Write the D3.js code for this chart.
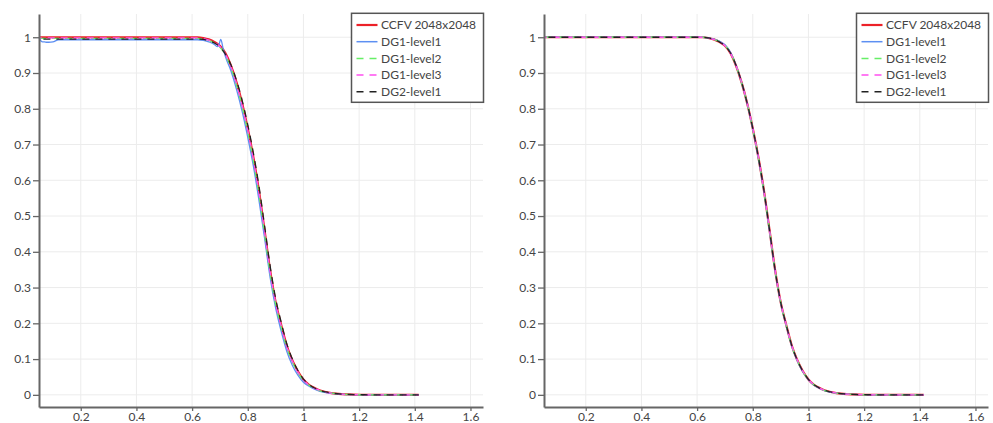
<!DOCTYPE html>
<html>
<head>
<meta charset="utf-8">
<script src="https://cdn.jsdelivr.net/npm/d3@7/dist/d3.min.js"></script>
<style>
  html, body { margin: 0; padding: 0; background: #fff; }
  svg { display: block; }
  text { font-family: Lato, "Open Sans", sans-serif; }
</style>
</head>
<body>
<svg id="chart" width="993" height="423"></svg>
<script>
// Shared radial sample positions
const xs = [0.05, 0.06, 0.08, 0.1, 0.12, 0.2, 0.3, 0.4, 0.5, 0.6,
  0.62, 0.64, 0.66, 0.68, 0.70, 0.72, 0.74, 0.76, 0.78, 0.80, 0.82, 0.84, 0.86, 0.88, 0.90,
  0.92, 0.94, 0.96, 0.98, 1.00, 1.02, 1.04, 1.06, 1.08, 1.10,
  1.14, 1.18, 1.22, 1.30, 1.414];

// Reference solution (same in both panels)
const ccfv = [1, 1, 1, 1, 1, 1, 1, 1, 1, 1,
  1, 0.998, 0.994, 0.987, 0.976, 0.955, 0.92, 0.873, 0.815, 0.745, 0.665, 0.572, 0.462, 0.35, 0.26,
  0.196, 0.138, 0.097, 0.066, 0.043, 0.028, 0.019, 0.012, 0.008, 0.005,
  0.002, 0.0008, 0.0002, 0, 0];

// Left panel
const dg1L1LeftX = [0.05, 0.055, 0.06, 0.07, 0.08, 0.085, 0.1, 0.12, 0.2, 0.3, 0.4, 0.5, 0.6,
  0.62, 0.64, 0.66, 0.68, 0.69, 0.695, 0.703, 0.712,
  0.72, 0.74, 0.76, 0.78, 0.80, 0.82, 0.84, 0.86, 0.88, 0.90, 0.92, 0.94, 0.96, 0.98, 1.00,
  1.02, 1.04, 1.06, 1.08, 1.10, 1.14, 1.18, 1.22, 1.30, 1.414];
const dg1L1Left = [1.0, 0.992, 0.988, 0.987, 0.986, 0.986, 0.987, 0.993, 0.993, 0.993, 0.993, 0.993, 0.993,
  0.993, 0.991, 0.987, 0.98, 0.974, 0.976, 0.994, 0.966,
  0.945, 0.905, 0.853, 0.792, 0.72, 0.64, 0.545, 0.44, 0.33, 0.243, 0.178, 0.122, 0.083, 0.055, 0.035,
  0.024, 0.016, 0.01, 0.006, 0.004, 0.0015, 0.0005, 0, 0, 0];
const dg1L2Left = [0.997, 0.997, 0.997, 0.997, 0.997, 0.997, 0.997, 0.997, 0.997, 0.997,
  0.997, 0.995, 0.991, 0.984, 0.972, 0.95, 0.914, 0.866, 0.806, 0.736, 0.655, 0.562, 0.452, 0.342, 0.254,
  0.19, 0.133, 0.093, 0.063, 0.041, 0.027, 0.018, 0.011, 0.007, 0.005,
  0.002, 0.0007, 0.0002, 0, 0];
const dg1L3Left = [0.998, 0.998, 0.998, 0.998, 0.998, 0.998, 0.998, 0.998, 0.998, 0.998,
  0.998, 0.996, 0.992, 0.985, 0.974, 0.952, 0.917, 0.869, 0.81, 0.74, 0.66, 0.567, 0.457, 0.346, 0.257,
  0.193, 0.135, 0.095, 0.064, 0.042, 0.027, 0.018, 0.012, 0.007, 0.005,
  0.002, 0.0008, 0.0002, 0, 0];
const dg2L1Left = [0.995, 0.995, 0.995, 0.995, 0.995, 0.995, 0.995, 0.995, 0.995, 0.995,
  0.995, 0.994, 0.99, 0.984, 0.973, 0.952, 0.922, 0.878, 0.823, 0.755, 0.677, 0.585, 0.475, 0.362, 0.27,
  0.203, 0.143, 0.1, 0.068, 0.044, 0.029, 0.019, 0.012, 0.008, 0.005,
  0.002, 0.0008, 0.0002, 0, 0];

// Right panel
const dg1L1Right = [1, 1, 1, 1, 1, 1, 1, 1, 1, 1,
  1, 0.998, 0.995, 0.989, 0.979, 0.958, 0.921, 0.873, 0.814, 0.743, 0.662, 0.568, 0.458, 0.347, 0.258,
  0.194, 0.136, 0.095, 0.064, 0.042, 0.027, 0.018, 0.011, 0.007, 0.005,
  0.002, 0.0007, 0.0002, 0, 0];
const dg1L2Right = [1, 1, 1, 1, 1, 1, 1, 1, 1, 1,
  1, 0.998, 0.994, 0.988, 0.977, 0.956, 0.92, 0.872, 0.814, 0.744, 0.664, 0.57, 0.46, 0.349, 0.259,
  0.195, 0.137, 0.096, 0.065, 0.043, 0.028, 0.018, 0.012, 0.008, 0.005,
  0.002, 0.0008, 0.0002, 0, 0];
const dg1L3Right = [1, 1, 1, 1, 1, 1, 1, 1, 1, 1,
  1, 0.998, 0.994, 0.987, 0.976, 0.955, 0.92, 0.873, 0.815, 0.745, 0.665, 0.571, 0.461, 0.35, 0.26,
  0.196, 0.138, 0.097, 0.066, 0.043, 0.028, 0.019, 0.012, 0.008, 0.005,
  0.002, 0.0008, 0.0002, 0, 0];
const dg2L1Right = [1, 1, 1, 1, 1, 1, 1, 1, 1, 1,
  1, 0.998, 0.994, 0.987, 0.976, 0.956, 0.921, 0.874, 0.815, 0.745, 0.665, 0.572, 0.462, 0.35, 0.26,
  0.196, 0.138, 0.097, 0.066, 0.043, 0.028, 0.019, 0.012, 0.008, 0.005,
  0.002, 0.0008, 0.0002, 0, 0];

const seriesNames = ["CCFV 2048x2048", "DG1-level1", "DG1-level2", "DG1-level3", "DG2-level1"];
const xTicks = [0.2, 0.4, 0.6, 0.8, 1, 1.2, 1.4, 1.6];
const yTicks = [0, 0.1, 0.2, 0.3, 0.4, 0.5, 0.6, 0.7, 0.8, 0.9, 1];

// Line styles per series
const styles = [
  { color: "#ec2128", width: 2.2, dash: null, offset: 0 },
  { color: "#5d8ff2", width: 1.3, dash: null, offset: 0 },
  { color: "#66ee66", width: 1.3, dash: "7,6", offset: 0 },
  { color: "#ff4ff0", width: 1.3, dash: "7,6", offset: 4.3 },
  { color: "#222222", width: 1.3, dash: "7,6", offset: 8.6 }
];

const panels = [
  { ox: 0, series: [[xs, ccfv], [dg1L1LeftX, dg1L1Left], [xs, dg1L2Left], [xs, dg1L3Left], [xs, dg2L1Left]] },
  { ox: 505, series: [[xs, ccfv], [xs, dg1L1Right], [xs, dg1L2Right], [xs, dg1L3Right], [xs, dg2L1Right]] }
];

const svg = d3.select("#chart");
const fmt = d => String(+d.toFixed(1));

panels.forEach(p => {
  const left = p.ox + 39, right = p.ox + 483, top = 14, bottom = 407;
  const x = d3.scaleLinear().domain([0.05, 1.645]).range([left, right]);
  const y = d3.scaleLinear().domain([-0.034, 1.065]).range([bottom, top]);
  const g = svg.append("g");

  // grid
  g.append("g").selectAll("line").data(xTicks).join("line")
    .attr("x1", d => x(d)).attr("x2", d => x(d)).attr("y1", top).attr("y2", bottom)
    .attr("stroke", "#ececec").attr("stroke-width", 1);
  g.append("g").selectAll("line").data(yTicks).join("line")
    .attr("x1", left).attr("x2", right).attr("y1", d => y(d)).attr("y2", d => y(d))
    .attr("stroke", "#ececec").attr("stroke-width", 1);

  // curves
  const line = d3.line().curve(d3.curveMonotoneX);
  p.series.forEach((s, i) => {
    const pts = s[0].map((xv, k) => [x(xv), y(s[1][k])]);
    const st = styles[i];
    g.append("path").attr("d", line(pts))
      .attr("fill", "none").attr("stroke", st.color).attr("stroke-width", st.width)
      .attr("stroke-dasharray", st.dash).attr("stroke-dashoffset", st.offset)
      .attr("stroke-linejoin", "round");
  });

  // axes
  const ax = g.append("g").attr("transform", `translate(0,${bottom})`)
    .call(d3.axisBottom(x).tickValues(xTicks).tickFormat(fmt).tickSize(4).tickSizeOuter(0).tickPadding(1));
  const ay = g.append("g").attr("transform", `translate(${left},0)`)
    .call(d3.axisLeft(y).tickValues(yTicks).tickFormat(fmt).tickSize(6).tickSizeOuter(0).tickPadding(2));
  [ax, ay].forEach(a => {
    a.select(".domain").attr("stroke", "#666").attr("stroke-width", 2);
    a.selectAll(".tick line").attr("stroke", "#666").attr("stroke-width", 1.3);
    a.selectAll(".tick text").attr("fill", "#444").attr("font-size", 12)
      .attr("font-family", "Lato, 'Open Sans', sans-serif");
  });

  // legend
  const lx = right - 131.5, ly = 13.3;
  const lg = g.append("g");
  lg.append("rect").attr("x", lx).attr("y", ly).attr("width", 132).attr("height", 89)
    .attr("fill", "#fff").attr("stroke", "#555").attr("stroke-width", 1.5);
  seriesNames.forEach((name, i) => {
    const cy = ly + 11.7 + i * 16.7;
    const st = styles[i];
    lg.append("line").attr("x1", lx + 5).attr("x2", lx + 26).attr("y1", cy).attr("y2", cy)
      .attr("stroke", st.color).attr("stroke-width", i === 0 ? 2.2 : 1.5)
      .attr("stroke-dasharray", st.dash);
    lg.append("text").attr("x", lx + 29.5).attr("y", cy).attr("dy", "0.35em")
      .attr("font-size", 12).attr("fill", "#444").text(name);
  });
});
</script>
</body>
</html>
